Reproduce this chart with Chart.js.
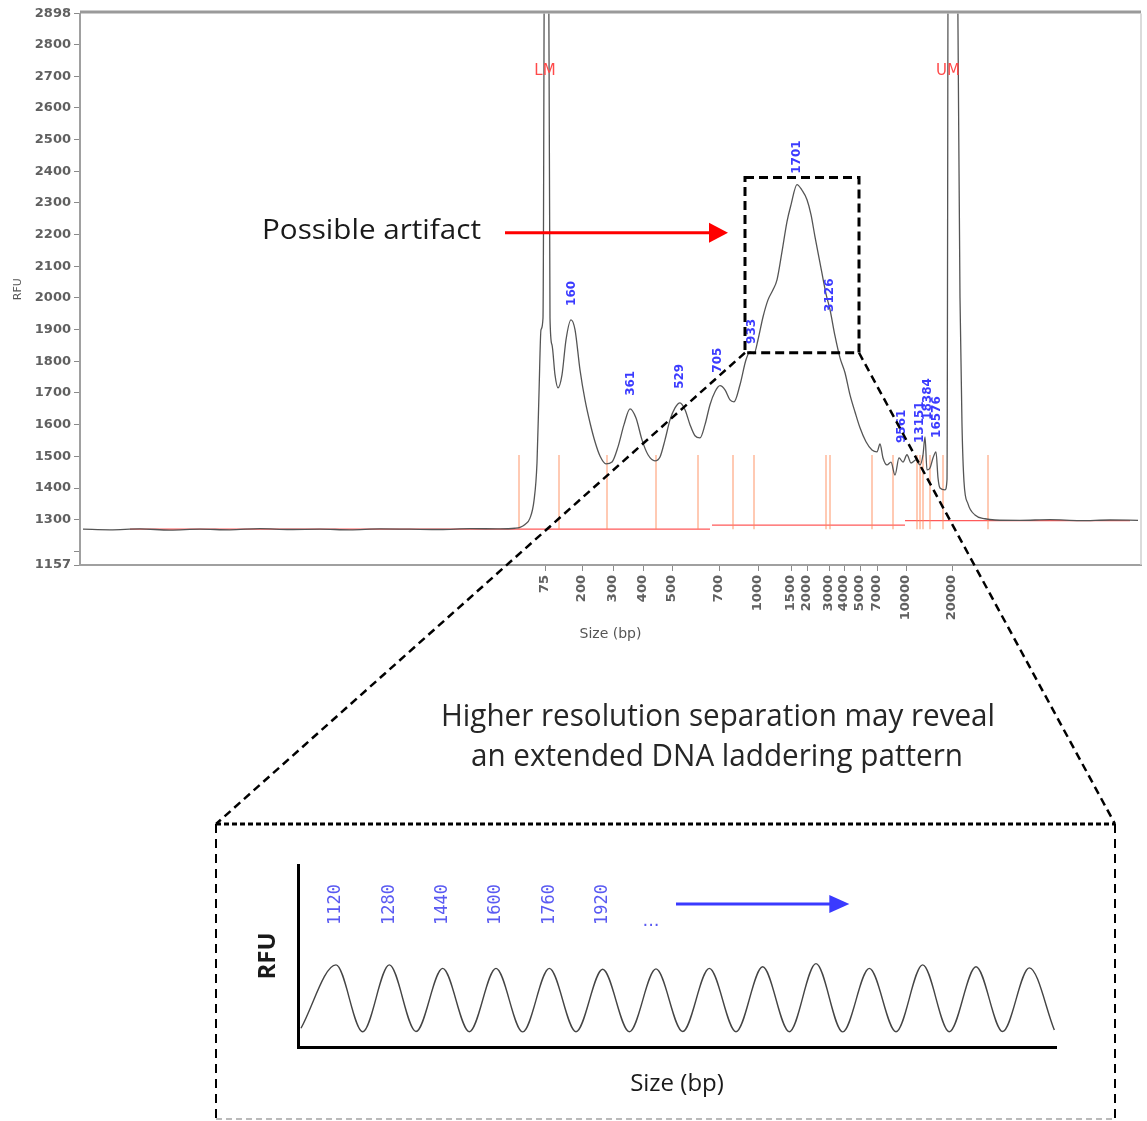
<!DOCTYPE html>
<html>
<head>
<meta charset="utf-8">
<title>Electropherogram - possible artifact</title>
<script src="https://cdn.jsdelivr.net/npm/chart.js@4.4.0/dist/chart.umd.min.js"></script>
<style>
  html, body { margin: 0; padding: 0; background: #fff; }
  #page { position: relative; width: 1147px; height: 1121px; overflow: hidden; }
  #mainChart { position: absolute; left: 0; top: 0; }
  #insetChart { position: absolute; left: 230px; top: 850px; }
</style>
</head>
<body>
<div id="page">
  <canvas id="mainChart" width="1147" height="1121"></canvas>
  <canvas id="insetChart" width="850" height="260"></canvas>
</div>
<script>
// ---- main electropherogram (x = migration position, arbitrary units) ----
const traceT = [0.3, 3, 6, 9, 12, 15, 18, 21, 24, 27, 30, 33, 36, 39, 42, 43.5,
  44.0, 44.5, 45.0, 45.4, 45.7, 45.9, 46.1, 46.3, 46.5, 46.8, 47.0, 47.2, 47.5, 47.8,
  48.2, 48.6, 49.1, 49.5, 50.0, 50.5, 51.0, 51.5, 52.0, 52.6, 53.2, 53.8, 54.4, 55.0,
  55.6, 56.2, 56.8, 57.5, 58.0, 58.5, 59.0, 59.5, 60.0, 60.5, 61.0, 61.5, 62.0, 62.5,
  63.0, 63.5, 64.0, 64.5, 65.0, 65.4, 66.0, 66.6, 67.0, 67.4, 67.8, 68.3, 68.8, 69.3,
  69.7, 70.2, 70.7, 71.1, 71.7, 72.2, 72.7, 73.1, 73.5, 74.0, 74.6, 75.0, 75.5, 76.0,
  76.5, 77.0, 77.5, 78.0, 78.6, 79.2, 79.7, 80.0, 80.3, 80.7, 81.1, 81.5, 81.9, 82.3,
  82.7, 83.1, 83.6, 84.0, 84.3, 84.5, 84.7, 85.0, 85.3, 85.6, 85.8, 86.0, 86.5, 86.7,
  86.85, 87.6, 87.8, 88.0, 88.2, 88.4, 88.8, 89.5, 90.5, 91.5, 94, 97, 100, 103, 105.8];
const traceRfu = [1270, 1268, 1271, 1267, 1270, 1268, 1272, 1269, 1270, 1268, 1271, 1270, 1269, 1272, 1271, 1273,
  1276, 1285, 1305, 1360, 1480, 1700, 1900, 1937, 3600, 3600, 1937, 1852, 1757, 1716,
  1757, 1868, 1931, 1900, 1773, 1678, 1606, 1546, 1501, 1476, 1482, 1530, 1600, 1650,
  1621, 1552, 1505, 1486, 1498, 1552, 1615, 1653, 1669, 1647, 1600, 1565, 1558, 1600,
  1663, 1704, 1723, 1710, 1678, 1672, 1726, 1805, 1830, 1824, 1868, 1940, 1994, 2026,
  2057, 2146, 2241, 2294, 2358, 2340, 2310, 2263, 2193, 2111, 2013, 1963, 1880, 1811,
  1764, 1694, 1640, 1590, 1546, 1520, 1514, 1539, 1495, 1473, 1482, 1441, 1495, 1482,
  1505, 1479, 1489, 1473, 1505, 1561, 1457, 1463, 1495, 1514, 1432, 1400, 1394, 1426,
  3600, 3600, 2850, 2000, 1600, 1420, 1350, 1315, 1303, 1299, 1298, 1300, 1297, 1299, 1298];

// red baseline segments (null = break)
const baselineT = [5.0, 63.0, 63.1, 63.2, 82.5, 82.5, 82.5, 105.0];
const baselineRfu = [1270, 1270, null, 1283, 1283, null, 1297, 1297];

// orange peak-marker lines
const markerT = [43.9, 47.9, 52.7, 57.6, 61.8, 65.3, 67.4, 74.6, 75.0, 79.2, 81.3, 83.7, 84.0, 84.3, 85.0, 86.3, 90.8];
const markerBottom = 1270;
const markerTop = 1504;

// peak size labels
const peakNames = ['160', '361', '529', '705', '933', '1701', '3126', '9561', '13151', '18384', '16576'];
const peakLabelT = [49.2, 55.1, 60.0, 63.8, 67.2, 71.7, 75.0, 82.2, 84.0, 84.8, 85.7];
const peakLabelRfu = [1975, 1691, 1713, 1764, 1855, 2392, 1956, 1542, 1542, 1615, 1558];

// lower / upper markers
const markerNames = ['LM', 'UM'];
const markerNameT = [46.5, 86.8];
const markerNameRfu = 2715;

// x axis: size ladder
const sizeLabels = ['75', '200', '300', '400', '500', '700', '1000', '1500', '2000', '3000', '4000', '5000', '7000', '10000', '20000'];
const sizeTickT = [46.5, 50.2, 53.3, 56.3, 59.2, 63.9, 67.8, 71.1, 72.7, 74.9, 76.4, 78.0, 79.7, 82.6, 87.2];

// y axis
const yTickValues = [1157, 1200, 1300, 1400, 1500, 1600, 1700, 1800, 1900, 2000, 2100, 2200, 2300, 2400, 2500, 2600, 2700, 2800, 2898];
const yTickLabels = ['1157', '', '1300', '1400', '1500', '1600', '1700', '1800', '1900', '2000', '2100', '2200', '2300', '2400', '2500', '2600', '2700', '2800', '2898'];

// zoomed region and annotation anchors (data units)
const zoomT = [66.5, 77.9];
const zoomRfu = [1827, 2380];
const artifactArrowT = [42.5, 64.8];
const artifactArrowRfu = 2206;

// ---- inset: schematic laddering (x = size in bp) ----
const ladderBp = [1015, 1120, 1200, 1280, 1360, 1440, 1520, 1600, 1680, 1760, 1840, 1920, 2000, 2080, 2160,
  2240, 2320, 2400, 2480, 2560, 2640, 2720, 2800, 2880, 2960, 3040, 3120, 3200, 3275];
const ladderRfu = [10.3, 45.1, 8.4, 45.1, 8.5, 43.2, 8.4, 43.2, 8.3, 43.2, 8.4, 42.7, 8.4, 42.9, 8.5,
  43.2, 8.4, 44.1, 8.4, 45.8, 8.3, 43.2, 8.4, 45.1, 8.4, 44.1, 8.5, 43.5, 9.3];
const insetSizeLabels = ['1120', '1280', '1440', '1600', '1760', '1920'];
const insetLabelBp = [1120, 1280, 1440, 1600, 1760, 1920];
const insetMoreBp = 2080;
const insetArrowBp = [2140, 2660];

function pairs(xs, ys) {
  return xs.map((v, i) => ({ x: v, y: ys[i] }));
}

const markerData = [];
markerT.forEach(t => {
  markerData.push({ x: t, y: markerBottom }, { x: t, y: markerTop }, { x: t, y: null });
});

function rotatedText(ctx, text, x, y, font, color) {
  ctx.save();
  ctx.translate(x, y);
  ctx.rotate(-Math.PI / 2);
  ctx.font = font;
  ctx.fillStyle = color;
  ctx.textAlign = 'left';
  ctx.textBaseline = 'middle';
  ctx.fillText(text, 0, 0);
  ctx.restore();
}

// text squeezed to a width (Calibri-like narrow look)
function fitText(ctx, text, cx, cy, font, width, color) {
  ctx.save();
  ctx.font = font;
  const w = ctx.measureText(text).width;
  ctx.translate(cx, cy);
  ctx.scale(width / w, 1);
  ctx.fillStyle = color;
  ctx.textAlign = 'center';
  ctx.textBaseline = 'middle';
  ctx.fillText(text, 0, 0);
  ctx.restore();
}

function arrow(ctx, x1, x2, y, color, head, half) {
  ctx.save();
  ctx.strokeStyle = color;
  ctx.fillStyle = color;
  ctx.lineWidth = 3;
  ctx.beginPath();
  ctx.moveTo(x1, y);
  ctx.lineTo(x2 - head + 2, y);
  ctx.stroke();
  ctx.beginPath();
  ctx.moveTo(x2, y);
  ctx.lineTo(x2 - head, y - half);
  ctx.lineTo(x2 - head, y + half);
  ctx.closePath();
  ctx.fill();
  ctx.restore();
}

const insetFrame = { left: 216, top: 824, right: 1115, bottom: 1119 };

const mainOverlay = {
  id: 'mainOverlay',
  afterDraw(chart) {
    const { ctx, chartArea: a, scales: { x, y } } = chart;
    ctx.save();
    // frame top / right
    ctx.strokeStyle = '#9a9a9a';
    ctx.lineWidth = 3;
    ctx.beginPath();
    ctx.moveTo(a.left, a.top - 1.5);
    ctx.lineTo(a.right, a.top - 1.5);
    ctx.stroke();
    ctx.strokeStyle = '#cfcfcf';
    ctx.lineWidth = 1.5;
    ctx.beginPath();
    ctx.moveTo(a.right, a.top);
    ctx.lineTo(a.right, a.bottom);
    ctx.stroke();

    // LM / UM
    ctx.font = '15px "DejaVu Sans"';
    ctx.fillStyle = '#ff4a4a';
    ctx.textAlign = 'center';
    ctx.textBaseline = 'middle';
    markerNames.forEach((n, i) => {
      ctx.fillText(n, x.getPixelForValue(markerNameT[i]), y.getPixelForValue(markerNameRfu));
    });

    // peak sizes
    peakNames.forEach((n, i) => {
      rotatedText(ctx, n, x.getPixelForValue(peakLabelT[i]), y.getPixelForValue(peakLabelRfu[i]),
        'bold 12px "DejaVu Sans"', '#3b3bff');
    });

    // possible artifact
    const ay = y.getPixelForValue(artifactArrowRfu);
    fitText(ctx, 'Possible artifact', 371.5, ay - 2, '28px "Open Sans"', 219, '#1a1a1a');
    arrow(ctx, x.getPixelForValue(artifactArrowT[0]), x.getPixelForValue(artifactArrowT[1]), ay, '#ff0000', 19, 10);

    // zoom box
    const bx0 = x.getPixelForValue(zoomT[0]);
    const bx1 = x.getPixelForValue(zoomT[1]);
    const by0 = y.getPixelForValue(zoomRfu[1]);
    const by1 = y.getPixelForValue(zoomRfu[0]);
    ctx.strokeStyle = '#000';
    ctx.lineWidth = 3;
    ctx.setLineDash([9, 5]);
    ctx.strokeRect(bx0, by0, bx1 - bx0, by1 - by0);

    // connectors
    ctx.lineWidth = 2.5;
    ctx.setLineDash([8, 5]);
    ctx.beginPath();
    ctx.moveTo(bx0, by1);
    ctx.lineTo(insetFrame.left, insetFrame.top);
    ctx.moveTo(bx1, by1);
    ctx.lineTo(insetFrame.right, insetFrame.top);
    ctx.stroke();

    // inset frame
    ctx.lineWidth = 3;
    ctx.setLineDash([5, 3]);
    ctx.beginPath();
    ctx.moveTo(insetFrame.left, insetFrame.top);
    ctx.lineTo(insetFrame.right, insetFrame.top);
    ctx.stroke();
    ctx.lineWidth = 2;
    ctx.setLineDash([9, 6]);
    ctx.beginPath();
    ctx.moveTo(insetFrame.left, insetFrame.top);
    ctx.lineTo(insetFrame.left, insetFrame.bottom + 4);
    ctx.moveTo(insetFrame.right, insetFrame.top);
    ctx.lineTo(insetFrame.right, insetFrame.bottom + 4);
    ctx.stroke();
    ctx.strokeStyle = '#777';
    ctx.lineWidth = 1.2;
    ctx.setLineDash([6, 4]);
    ctx.beginPath();
    ctx.moveTo(insetFrame.left, insetFrame.bottom);
    ctx.lineTo(insetFrame.right, insetFrame.bottom);
    ctx.stroke();
    ctx.setLineDash([]);

    // caption
    fitText(ctx, 'Higher resolution separation may reveal', 718, 717, '31px "Open Sans"', 554, '#262626');
    fitText(ctx, 'an extended DNA laddering pattern', 717, 757, '31px "Open Sans"', 492, '#262626');
    ctx.restore();
  }
};

new Chart(document.getElementById('mainChart'), {
  type: 'line',
  data: {
    datasets: [
      {
        label: 'RFU',
        data: pairs(traceT, traceRfu),
        borderColor: '#555',
        borderWidth: 1.3,
        pointRadius: 0,
        cubicInterpolationMode: 'monotone',
        order: 1
      },
      {
        label: 'Peaks',
        data: markerData,
        borderColor: 'rgba(255,140,90,0.7)',
        borderWidth: 1.3,
        pointRadius: 0,
        spanGaps: false,
        order: 2
      },
      {
        label: 'Baseline',
        data: pairs(baselineT, baselineRfu),
        borderColor: '#ff5a5a',
        borderWidth: 1.3,
        pointRadius: 0,
        spanGaps: false,
        order: 3
      }
    ]
  },
  options: {
    responsive: false,
    animation: false,
    layout: { padding: { top: 13.5, right: 6, bottom: 461, left: 0 } },
    plugins: { legend: { display: false }, tooltip: { enabled: false } },
    scales: {
      x: {
        type: 'linear',
        min: 0,
        max: 106.1,
        afterBuildTicks: axis => { axis.ticks = sizeTickT.map(v => ({ value: v })); },
        afterFit: axis => { axis.height = 95; },
        ticks: {
          autoSkip: false,
          minRotation: 90,
          maxRotation: 90,
          padding: 4,
          color: '#606060',
          font: { family: 'DejaVu Sans', size: 13, weight: 'bold' },
          callback: (v, i) => sizeLabels[i]
        },
        grid: { drawOnChartArea: false, tickLength: 6, color: '#8a8a8a' },
        border: { color: '#a0a0a0', width: 2 },
        title: {
          display: true,
          text: 'Size (bp)',
          color: '#555',
          font: { family: 'DejaVu Sans', size: 14 },
          padding: { top: 0, bottom: 17 }
        }
      },
      y: {
        min: 1157,
        max: 2898,
        afterBuildTicks: axis => { axis.ticks = yTickValues.map(v => ({ value: v })); },
        afterFit: axis => { axis.width = 80; },
        ticks: {
          padding: 3,
          color: '#606060',
          font: { family: 'DejaVu Sans', size: 13, weight: 'bold' },
          callback: (v, i) => yTickLabels[i]
        },
        grid: { drawOnChartArea: false, tickLength: 6, color: '#8a8a8a' },
        border: { color: '#a0a0a0', width: 2 },
        title: {
          display: true,
          text: 'RFU',
          color: '#555',
          font: { family: 'DejaVu Sans', size: 11 },
          padding: { top: 12, bottom: 0 }
        }
      }
    }
  },
  plugins: [mainOverlay]
});

const insetOverlay = {
  id: 'insetOverlay',
  afterDraw(chart) {
    const { ctx, scales: { x, y } } = chart;
    const ly = y.getPixelForValue(67);
    insetSizeLabels.forEach((n, i) => {
      rotatedText(ctx, n, x.getPixelForValue(insetLabelBp[i]), ly, '17px "DejaVu Sans Mono"', '#5a5af2');
    });
    ctx.save();
    ctx.font = '18px "DejaVu Sans"';
    ctx.fillStyle = '#5a5af2';
    ctx.textAlign = 'center';
    ctx.textBaseline = 'alphabetic';
    ctx.fillText('...', x.getPixelForValue(insetMoreBp) - 5, ly + 1);
    ctx.restore();
    arrow(ctx, x.getPixelForValue(insetArrowBp[0]), x.getPixelForValue(insetArrowBp[1]),
      y.getPixelForValue(78.6), '#3a3aff', 20, 9);
  }
};

new Chart(document.getElementById('insetChart'), {
  type: 'line',
  data: {
    datasets: [{
      label: 'Laddering',
      data: pairs(ladderBp, ladderRfu),
      borderColor: '#444',
      borderWidth: 1.4,
      pointRadius: 0,
      cubicInterpolationMode: 'monotone'
    }]
  },
  options: {
    responsive: false,
    animation: false,
    layout: { padding: { top: 15, right: 24, bottom: 0, left: 0 } },
    plugins: { legend: { display: false }, tooltip: { enabled: false } },
    scales: {
      x: {
        type: 'linear',
        min: 1006,
        max: 3280,
        afterFit: axis => { axis.height = 63; },
        ticks: { display: false },
        grid: { drawOnChartArea: false, drawTicks: false },
        border: { color: '#000', width: 3 },
        title: {
          display: true,
          text: 'Size (bp)',
          color: '#1a1a1a',
          font: { family: 'Open Sans', size: 24 },
          padding: { top: 0, bottom: 11.6 }
        }
      },
      y: {
        min: 0,
        max: 100,
        afterFit: axis => { axis.width = 68; },
        ticks: { display: false },
        grid: { drawOnChartArea: false, drawTicks: false },
        border: { color: '#000', width: 3 },
        title: {
          display: true,
          text: 'RFU',
          color: '#1a1a1a',
          font: { family: 'Open Sans', size: 24, weight: 'bold' },
          padding: { top: 23.6, bottom: 0 }
        }
      }
    }
  },
  plugins: [insetOverlay]
});
</script>
</body>
</html>
